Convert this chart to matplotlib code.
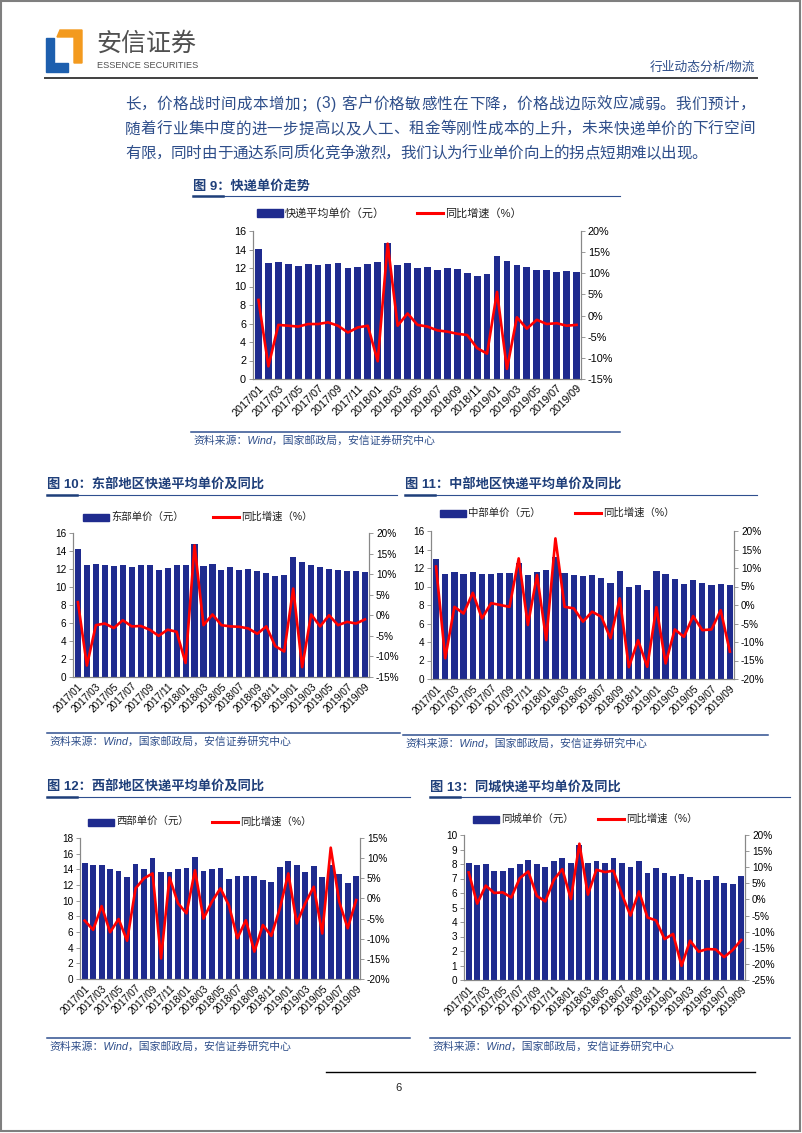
"""
Rebuild of a report page: express delivery unit price charts.
Saves out.png.
"""
import matplotlib
matplotlib.use('Agg')
import matplotlib.pyplot as plt
from matplotlib.lines import Line2D
from matplotlib.patches import Rectangle, Polygon

W, H = 802, 1133
BAR = '#1f2b8e'
RED = '#ff0000'
BLUE_TXT = '#2e4e8a'
TITLE_TXT = '#1f3f7a'

MONTHS = ['2017/01', '2017/02', '2017/03', '2017/04', '2017/05', '2017/06',
          '2017/07', '2017/08', '2017/09', '2017/10', '2017/11', '2017/12',
          '2018/01', '2018/02', '2018/03', '2018/04', '2018/05', '2018/06',
          '2018/07', '2018/08', '2018/09', '2018/10', '2018/11', '2018/12',
          '2019/01', '2019/02', '2019/03', '2019/04', '2019/05', '2019/06',
          '2019/07', '2019/08', '2019/09']

NAT_PRICE = [14.1, 12.5, 12.7, 12.4, 12.2, 12.4, 12.3, 12.4, 12.5, 12.0, 12.1, 12.4,
             12.6, 14.7, 12.3, 12.5, 12.0, 12.1, 11.8, 12.0, 11.9, 11.5, 11.1, 11.3,
             13.3, 12.8, 12.3, 12.1, 11.8, 11.8, 11.6, 11.7, 11.6]
NAT_YOY = [3.7, -12.0, -2.2, -2.4, -2.6, -2.0, -2.0, -1.6, -2.4, -4.0, -2.8, -2.4,
           -10.8, 17.0, -2.4, 0.5, -2.2, -2.6, -3.5, -3.8, -4.3, -4.6, -7.7, -9.0,
           5.6, -12.6, -0.4, -3.1, -1.0, -2.0, -1.8, -2.4, -2.2]

EAST_PRICE = [14.2, 12.5, 12.6, 12.4, 12.3, 12.5, 12.2, 12.4, 12.4, 11.9, 12.1, 12.4,
              12.5, 14.8, 12.3, 12.6, 11.9, 12.2, 11.9, 12.0, 11.8, 11.6, 11.2, 11.3,
              13.3, 12.8, 12.4, 12.2, 12.0, 11.9, 11.8, 11.8, 11.7]
EAST_YOY = [3.2, -12.2, -2.4, -2.0, -3.1, -1.2, -2.7, -2.6, -3.5, -5.0, -3.5, -4.0,
            -11.6, 17.0, -2.4, 0.2, -2.4, -2.7, -2.8, -3.2, -4.5, -2.7, -7.5, -8.8,
            6.5, -12.6, 0.2, -2.7, 0.0, -2.4, -1.6, -2.0, -1.0]

CENTRAL_PRICE = [13.0, 11.3, 11.6, 11.4, 11.6, 11.4, 11.3, 11.5, 11.5, 12.5, 11.2, 11.6,
                 11.8, 13.2, 11.5, 11.2, 11.1, 11.2, 10.9, 10.4, 11.7, 9.9, 10.2, 9.6,
                 11.7, 11.3, 10.8, 10.3, 10.7, 10.4, 10.2, 10.3, 10.2]
CENTRAL_YOY = [10.4, -14.4, -0.5, -2.3, 3.3, -3.6, 0.5, 0.0, -0.5, 12.6, -5.4, 8.1,
               -9.5, 18.0, -0.5, -0.9, -4.5, -1.8, -3.2, -9.0, 1.8, -16.8, -9.5, -16.7,
               -0.6, -15.8, -6.6, -8.6, -3.0, -6.8, -6.6, -1.4, -12.6]

WEST_PRICE = [14.8, 14.5, 14.5, 14.1, 13.8, 13.0, 14.7, 14.0, 15.4, 13.6, 13.7, 14.1,
              14.2, 15.6, 13.8, 14.0, 14.2, 12.8, 13.2, 13.2, 13.1, 12.7, 12.4, 14.3,
              15.1, 14.6, 13.7, 14.4, 13.0, 14.5, 13.4, 12.2, 13.1]
WEST_YOY = [-5.5, -7.8, -1.9, -8.4, -5.1, -10.5, 2.5, 5.0, 6.2, -14.9, 5.2, -1.2,
            -3.7, 7.0, -5.0, -0.8, 2.5, -1.7, -9.9, -5.4, -13.2, -6.6, -9.3, -2.5,
            6.2, -6.2, -1.2, 2.9, -8.7, 12.6, -0.8, -7.4, -0.4]

CITY_PRICE = [8.1, 7.9, 8.0, 7.5, 7.5, 7.7, 8.0, 8.3, 8.0, 7.8, 8.2, 8.4,
              8.1, 9.3, 8.1, 8.2, 8.1, 8.4, 8.1, 7.8, 8.2, 7.4, 7.7, 7.4,
              7.2, 7.3, 7.1, 6.9, 6.9, 7.2, 6.7, 6.6, 7.2]
CITY_YOY = [8.4, -1.3, 4.3, 2.0, 2.2, 0.6, 6.6, 8.7, 1.1, -0.6, 6.1, 9.4,
            0.1, 17.3, 1.5, 9.2, 8.5, 8.9, 1.5, -5.0, 2.5, -5.6, -6.5, -12.3,
            -10.7, -20.6, -12.8, -16.2, -15.4, -15.5, -17.9, -15.7, -12.6]

BODY = ['长，价格战时间成本增加；(3) 客户价格敏感性在下降，价格战边际效应减弱。我们预计，',
        '随着行业集中度的进一步提高以及人工、租金等刚性成本的上升，未来快递单价的下行空间',
        '有限，同时由于通达系同质化竞争激烈，我们认为行业单价向上的拐点短期难以出现。']
SOURCE = '资料来源：Wind，国家邮政局，安信证券研究中心'

plt.rcParams['font.family'] = ['Liberation Sans', 'Noto Sans CJK SC', 'DejaVu Sans']

fig = plt.figure(figsize=(W / 100, H / 100), dpi=100)
renderer = fig.canvas.get_renderer()


def fx(x):
    return x / W


def fy(y):
    return 1 - y / H


def hline(x0, x1, y, color, lw):
    fig.add_artist(Line2D([fx(x0), fx(x1)], [fy(y), fy(y)], color=color, lw=lw))


def text(x, y, s, **kw):
    kw.setdefault('va', 'center')
    return fig.text(fx(x), fy(y), s, **kw)


def justified(x0, x1, y, s, fs):
    # place characters one by one so the line fills x0..x1
    items = [text(0, y, ch, fontsize=fs, color=BLUE_TXT) for ch in s]
    widths = [t.get_window_extent(renderer).width for t in items]
    gap = (x1 - x0 - sum(widths)) / (len(s) - 1)
    x = x0
    for t, w in zip(items, widths):
        t.set_x(fx(x))
        x += w + gap


def fig_title(x, y, s, x1):
    text(x, y, s, fontsize=9.5, fontweight='bold', color=TITLE_TXT)
    hline(x, x1, y + 10, '#2f4f8f', 0.8)
    hline(x, x + 30, y + 10, '#1f3f7a', 1.8)


def source(x, y, x1):
    hline(x - 2, x1, y, '#2f4f8f', 1.1)
    text(x, y + 9, SOURCE, fontsize=7.8, style='italic', color=BLUE_TXT)


def legend(y, bx, lx, label, fs):
    fig.add_artist(Rectangle((fx(bx), fy(y + 3.5)), 26 / W, 7 / H, color=BAR))
    text(bx + 28, y, label, fontsize=fs, color='#222222')
    fig.add_artist(Line2D([fx(lx), fx(lx + 26)], [fy(y), fy(y)], color=RED, lw=2.2))
    text(lx + 28, y, '同比增速（%）', fontsize=fs, color='#222222')


def chart(box, price, yoy, lticks, rticks, fs):
    l, t, r, b = box
    ax = fig.add_axes([fx(l), fy(b), (r - l) / W, (b - t) / H])
    x = list(range(len(price)))
    ax.bar(x, price, width=0.68, color=BAR)
    ax.set_xlim(-0.55, len(price) - 0.55)
    ax.set_ylim(lticks[0], lticks[-1])
    ax.set_yticks(lticks)
    ax.set_xticks(x[::2])
    ax.set_xticklabels(MONTHS[::2], rotation=45, ha='right', rotation_mode='anchor')
    ax.tick_params(axis='x', length=0, labelsize=fs, pad=3)
    ax.tick_params(axis='y', length=3, width=0.6, color='#888888', labelsize=fs, pad=2)

    ax2 = ax.twinx()
    ax2.plot(x, yoy, color=RED, lw=1.9)
    ax2.set_ylim(rticks[0], rticks[-1])
    ax2.set_yticks(rticks)
    ax2.set_yticklabels([f'{v}%' for v in rticks])
    ax2.tick_params(axis='y', length=3, width=0.6, color='#888888', labelsize=fs, pad=2)

    for a in (ax, ax2):
        a.spines['top'].set_visible(False)
        for s in ('left', 'right', 'bottom'):
            a.spines[s].set_color('#888888')
            a.spines[s].set_linewidth(0.8)
    ax.set_facecolor('none')
    return ax


# page frame
fig.add_artist(Rectangle((0.001, 0.002), 0.997, 0.997, fill=False,
                         edgecolor='#7f7f7f', lw=1.5))

# logo and header
fig.add_artist(Polygon([(fx(57), fy(37)), (fx(60), fy(30)), (fx(82), fy(30)), (fx(82), fy(63)),
                        (fx(74), fy(63)), (fx(74), fy(37))], closed=True, color='#f39a1e'))
fig.add_artist(Polygon([(fx(46), fy(38)), (fx(54), fy(38)), (fx(54), fy(63)), (fx(68), fy(63)),
                        (fx(68), fy(72)), (fx(46), fy(72))], closed=True, color='#1d5fae'))
text(96, 44, '安信证券', fontsize=18, color='#505050')
text(97, 66, 'ESSENCE SECURITIES', fontsize=6.6, color='#505050')
text(755, 68, '行业动态分析/物流', fontsize=9.2, color=BLUE_TXT, ha='right')
hline(45, 757, 78, '#404040', 1.4)

justified(125, 755, 104, BODY[0], 11.2)
justified(125, 755, 129, BODY[1], 11.2)
justified(125, 707, 153, BODY[2], 11.2)

# figure 9
fig_title(193, 186, '图 9：快递单价走势', 620)
legend(213, 257, 417, '快递平均单价（元）', 8)
chart((253, 231, 581, 379), NAT_PRICE, NAT_YOY, list(range(0, 17, 2)),
      [-15, -10, -5, 0, 5, 10, 15, 20], 7.8)
source(193, 432, 620)

# figure 10
fig_title(47, 485, '图 10：东部地区快递平均单价及同比', 397)
legend(517, 83, 213, '东部单价（元）', 7.5)
chart((73, 533, 369, 677), EAST_PRICE, EAST_YOY, list(range(0, 17, 2)),
      [-15, -10, -5, 0, 5, 10, 15, 20], 7.2)
source(49, 733, 400)

# figure 11
fig_title(405, 485, '图 11：中部地区快递平均单价及同比', 757)
legend(513, 440, 575, '中部单价（元）', 7.5)
chart((431, 531, 734, 679), CENTRAL_PRICE, CENTRAL_YOY, list(range(0, 17, 2)),
      [-20, -15, -10, -5, 0, 5, 10, 15, 20], 7.2)
source(405, 735, 768)

# figure 12
fig_title(47, 787, '图 12：西部地区快递平均单价及同比', 410)
legend(822, 88, 212, '西部单价（元）', 7.5)
chart((80, 838, 360, 979), WEST_PRICE, WEST_YOY, list(range(0, 19, 2)),
      [-20, -15, -10, -5, 0, 5, 10, 15], 7.2)
source(49, 1038, 410)

# figure 13
fig_title(430, 787, '图 13：同城快递平均单价及同比', 790)
legend(819, 473, 598, '同城单价（元）', 7.5)
chart((464, 835, 745, 980), CITY_PRICE, CITY_YOY, list(range(0, 11)),
      [-25, -20, -15, -10, -5, 0, 5, 10, 15, 20], 7.2)
source(432, 1038, 790)

# footer
hline(326, 755, 1072, '#000000', 1.0)
text(399, 1088, '6', fontsize=8, ha='center', color='#222222')

fig.savefig('out.png', dpi=100)
